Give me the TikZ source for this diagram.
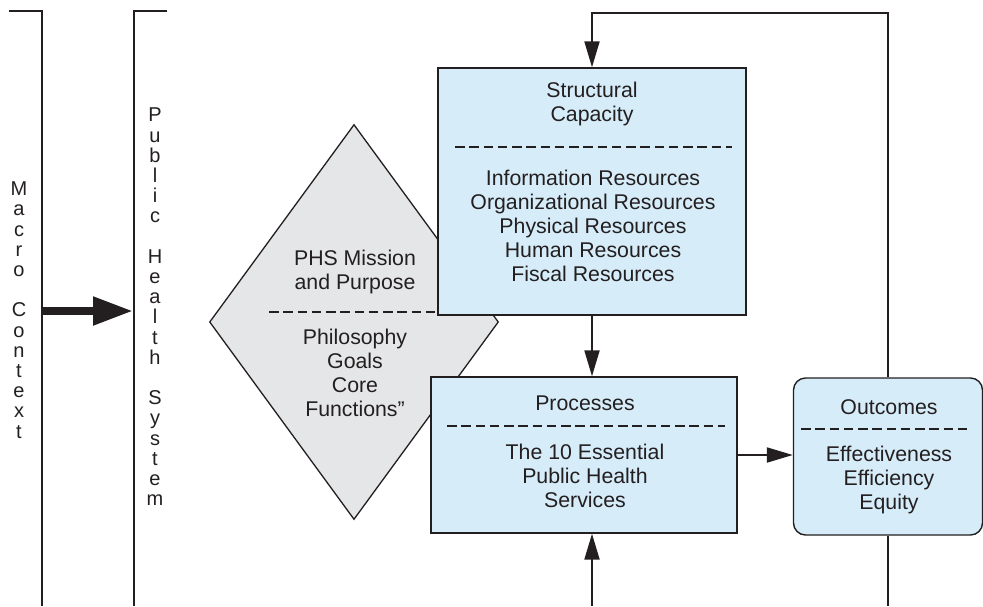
\documentclass[tikz,border=0pt]{standalone}
\usepackage{fontspec}
\setmainfont{Liberation Sans}
\usetikzlibrary{arrows.meta,shapes.geometric}
\definecolor{boxblue}{RGB}{214,236,249}
\definecolor{dgray}{RGB}{229,230,231}
\definecolor{ink}{RGB}{35,31,32}
\begin{document}
\begin{tikzpicture}[x=1pt,y=-1pt,
  bluebox/.style={draw=ink, fill=boxblue, line width=1.4pt, inner sep=0pt},
  txt/.style={align=center, inner sep=0pt, text=ink, font={\fontsize{21.3}{24}\selectfont}},
  vtxt/.style={align=center, inner sep=0pt, text=ink, font={\fontsize{20}{20.2}\selectfont}},
  sepline/.style={draw=ink, line width=2.2pt, dash pattern=on 9.5pt off 4.75pt},
  conn/.style={draw=ink, line width=2pt, -{Triangle[length=26pt,width=15pt]}},
  plainline/.style={draw=ink, line width=2pt},
]
\useasboundingbox (0,0) rectangle (983,606);

% brackets
\draw[plainline] (9,11) -- (42,11) -- (42,606);
\draw[plainline] (167,11) -- (134,11) -- (134,606);
\node[vtxt] (macro) at (19,310) {M\\a\\c\\r\\o\\[20.2pt]C\\o\\n\\t\\e\\x\\t};
\node[vtxt] (phs) at (155,307) {P\\u\\b\\l\\i\\c\\[20.2pt]H\\e\\a\\l\\t\\h\\[20.2pt]S\\y\\s\\t\\e\\m};
\coordinate (mc) at (42,311);
\coordinate (ph) at (133,311);
\draw[draw=ink, line width=8pt, -{Triangle[length=40pt,width=27pt]}] (mc) -- (ph);

% diamond
\node[diamond, draw=ink, fill=dgray, line width=1.3pt, inner sep=0pt,
      minimum width=289pt, minimum height=395pt] (dia) at (354,322) {};
\node[txt] (diatitle) at (355,272) {PHS Mission\\and Purpose};
\draw[sepline] (269,312) -- (440,312);
\node[txt] (dialist) at (355,373) {Philosophy\\Goals\\Core\\Functions”};

% structural capacity
\node[bluebox, minimum width=308pt, minimum height=247pt] (sc) at (592,191.5) {};
\node[txt] (sctitle) at (592,104) {Structural\\Capacity};
\draw[sepline] (455,147) -- (732,147);
\node[txt] (sclist) at (593,226) {Information Resources\\Organizational Resources\\Physical Resources\\Human Resources\\Fiscal Resources};

% processes
\node[bluebox, minimum width=306pt, minimum height=156pt] (pr) at (584,455) {};
\node[txt] (prtitle) at (585,403) {Processes};
\draw[sepline] (447,426) -- (725,426);
\node[txt] (prlist) at (585,476) {The 10 Essential\\Public Health\\Services};

% outcomes
\node[bluebox, rounded corners=12pt, minimum width=189pt, minimum height=157pt] (out) at (888,456.5) {};
\node[txt] (outtitle) at (889,407) {Outcomes};
\draw[sepline] (801,429) -- (972,429);
\node[txt] (outlist) at (889,480) {Effectiveness\\Efficiency\\Equity};

% connectors
\coordinate (fb) at (592,13);
\draw[conn] (out.north) |- (fb) -- (sc.north);
\draw[conn] (sc.south) -- (sc.south |- pr.north);
\coordinate (bin) at (592,606);
\draw[conn] (bin) -- (bin |- pr.south);
\draw[conn] (pr.east) -- (pr.east -| out.west);
\coordinate (bout) at (888,606);
\draw[plainline] (out.south) -- (bout);
\end{tikzpicture}
\end{document}
